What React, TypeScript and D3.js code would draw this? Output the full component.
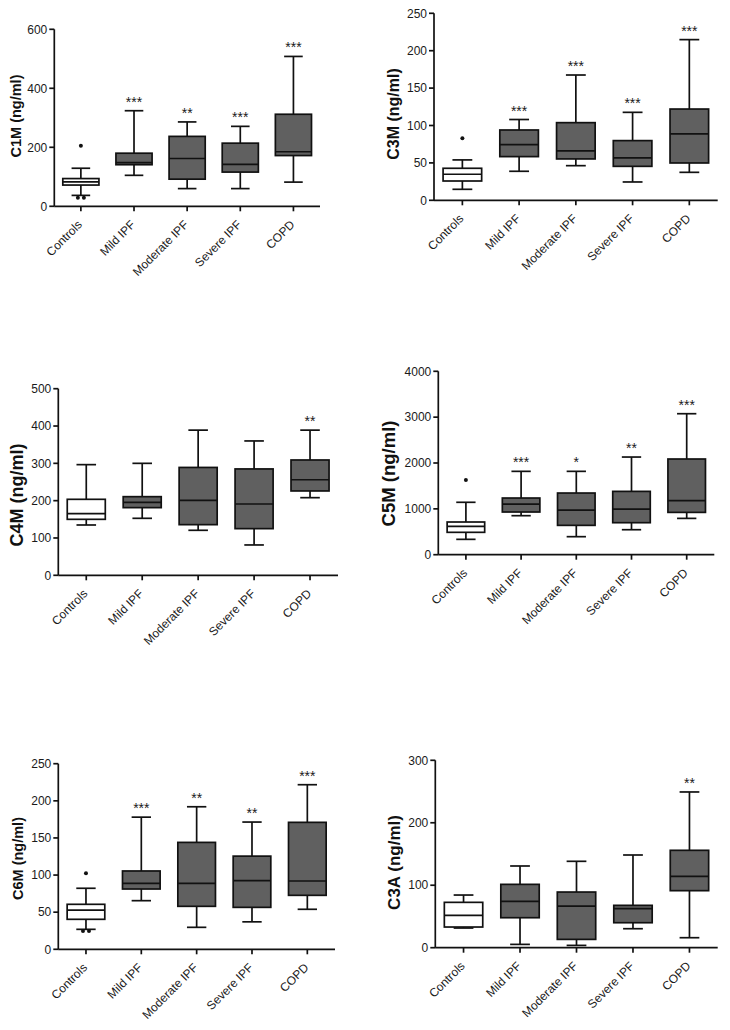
import React from 'react';
import * as d3 from 'd3';

const categories = ['Controls', 'Mild IPF', 'Moderate IPF', 'Severe IPF', 'COPD'];

// each box: [lower whisker, Q1, median, Q3, upper whisker]
const c1mBoxes = [[37, 72, 83, 94, 129], [105, 141, 148, 180, 324], [60, 92, 162, 237, 286], [60, 116, 142, 214, 271], [82, 172, 185, 312, 508]];
const c1mOutliers = [[205, 29, 29], [], [], [], []];
const c1mStars = ['', '***', '**', '***', '***'];
const c1mTicks = [0, 200, 400, 600];

const c3mBoxes = [[14.7, 25.8, 34.8, 42.8, 54], [38.8, 58.4, 74.4, 94, 108], [46.3, 55.3, 66, 103.8, 167.5], [24.5, 45.4, 56.6, 79.8, 117.6], [37.4, 49.9, 88.7, 122, 214.8]];
const c3mOutliers = [[83], [], [], [], []];
const c3mStars = ['', '***', '***', '***', '***'];
const c3mTicks = [0, 50, 100, 150, 200, 250];

const c4mBoxes = [[134.8, 150, 165, 203.6, 296.5], [152.7, 181.3, 195.6, 210.7, 300], [120.6, 135.7, 201, 289, 389], [81.3, 125, 191, 285, 360], [208, 226, 256, 309, 389]];
const c4mOutliers = [[], [], [], [], []];
const c4mStars = ['', '', '', '', '**'];
const c4mTicks = [0, 100, 200, 300, 400, 500];

const c5mBoxes = [[335, 488, 619, 713, 1143], [851, 931, 1105, 1236, 1818], [393, 640, 974, 1345, 1818], [545, 698, 996, 1381, 2130], [792, 923, 1178, 2087, 3075]];
const c5mOutliers = [[1629], [], [], [], []];
const c5mStars = ['', '***', '*', '**', '***'];
const c5mTicks = [0, 1000, 2000, 3000, 4000];

const c6mBoxes = [[26.9, 40.4, 52.9, 60.6, 82.2], [65.5, 81.2, 88.9, 105.5, 178], [29.6, 57.9, 88.9, 144, 192], [37, 56.5, 92.4, 125.5, 171.4], [53.9, 72.7, 92, 171, 221.7]];
const c6mOutliers = [[102.4, 24.6, 24.6], [], [], [], []];
const c6mStars = ['', '***', '**', '**', '***'];
const c6mTicks = [0, 50, 100, 150, 200, 250];

const c3aBoxes = [[31.5, 33.1, 51.8, 72.6, 84.3], [5.3, 48, 74.2, 101.4, 130.8], [3.7, 13.3, 66.7, 89.1, 138.3], [30.4, 40, 62.5, 67.8, 148.4], [16, 91.3, 114.2, 155.9, 249.3]];
const c3aOutliers = [[], [], [], [], []];
const c3aStars = ['', '', '', '', '**'];
const c3aTicks = [0, 100, 200, 300];

const panels = [
  { label: 'C1M (ng/ml)', boxes: c1mBoxes, outliers: c1mOutliers, stars: c1mStars, ticks: c1mTicks },
  { label: 'C3M (ng/ml)', boxes: c3mBoxes, outliers: c3mOutliers, stars: c3mStars, ticks: c3mTicks },
  { label: 'C4M (ng/ml)', boxes: c4mBoxes, outliers: c4mOutliers, stars: c4mStars, ticks: c4mTicks },
  { label: 'C5M (ng/ml)', boxes: c5mBoxes, outliers: c5mOutliers, stars: c5mStars, ticks: c5mTicks },
  { label: 'C6M (ng/ml)', boxes: c6mBoxes, outliers: c6mOutliers, stars: c6mStars, ticks: c6mTicks },
  { label: 'C3A (ng/ml)', boxes: c3aBoxes, outliers: c3aOutliers, stars: c3aStars, ticks: c3aTicks },
];

const layouts = [
  { left: 54.3, right: 320, top: 29.3, bottom: 206.3, titleX: 20.7, titleY: 116, titleSize: 14.5 },
  { left: 434, right: 717.7, top: 13.3, bottom: 200.3, titleX: 399.3, titleY: 114, titleSize: 16 },
  { left: 58.3, right: 338, top: 388.7, bottom: 575.3, titleX: 23.3, titleY: 495, titleSize: 18 },
  { left: 438.3, right: 714.3, top: 371.3, bottom: 554.7, titleX: 395, titleY: 473.5, titleSize: 18.5 },
  { left: 58.3, right: 335, top: 763.7, bottom: 949.3, titleX: 22.7, titleY: 858.5, titleSize: 14.5 },
  { left: 435.3, right: 717.7, top: 760.3, bottom: 947.7, titleX: 400, titleY: 862.5, titleSize: 17 },
];

const FONT = 'Liberation Sans, Arial, Helvetica, sans-serif';
const FILL = '#606060';
const INK = '#111';
const SW = 1.7;

function Panel({ panel, layout }: any) {
  const x = d3.scaleBand<string>().domain(categories).range([layout.left, layout.right]).padding(0);
  const yMax = panel.ticks[panel.ticks.length - 1];
  const y = d3.scaleLinear().domain([0, yMax]).range([layout.bottom, layout.top]);
  const bw = x.bandwidth() * 0.68;
  const cw = x.bandwidth() * 0.35;
  return (
    <g>
      {/* axes */}
      <line x1={layout.left} x2={layout.left} y1={layout.top} y2={layout.bottom} stroke={INK} strokeWidth={SW} />
      <line x1={layout.left} x2={layout.right} y1={layout.bottom} y2={layout.bottom} stroke={INK} strokeWidth={SW} />
      {panel.ticks.map((t: number) => (
        <g key={t}>
          <line x1={layout.left - 5} x2={layout.left} y1={y(t)} y2={y(t)} stroke={INK} strokeWidth={SW} />
          <text x={layout.left - 7} y={y(t)} dy="0.35em" textAnchor="end" fontSize={12} fontFamily={FONT} fill="#1a1a1a">{t}</text>
        </g>
      ))}
      {categories.map((c) => {
        const cx = (x(c) as number) + x.bandwidth() / 2;
        return (
          <g key={c}>
            <line x1={cx} x2={cx} y1={layout.bottom} y2={layout.bottom + 5} stroke={INK} strokeWidth={SW} />
            <text transform={`translate(${cx + 2},${layout.bottom + 19}) rotate(-45)`} textAnchor="end" fontSize={12} fontFamily={FONT} fill="#1a1a1a">{c}</text>
          </g>
        );
      })}
      <text transform={`translate(${layout.titleX},${layout.titleY}) rotate(-90)`} textAnchor="middle" fontSize={layout.titleSize} fontWeight="bold" fontFamily={FONT} fill={INK}>{panel.label}</text>
      {/* boxes */}
      {panel.boxes.map((b: number[], i: number) => {
        const c = categories[i];
        const cx = (x(c) as number) + x.bandwidth() / 2;
        const [lo, q1, md, q3, hi] = b;
        const fill = i === 0 ? '#fff' : FILL;
        const outs: number[] = panel.outliers[i];
        return (
          <g key={c}>
            <line x1={cx} x2={cx} y1={y(hi)} y2={y(q3)} stroke={INK} strokeWidth={SW} />
            <line x1={cx} x2={cx} y1={y(q1)} y2={y(lo)} stroke={INK} strokeWidth={SW} />
            <line x1={cx - cw / 2} x2={cx + cw / 2} y1={y(hi)} y2={y(hi)} stroke={INK} strokeWidth={SW} />
            <line x1={cx - cw / 2} x2={cx + cw / 2} y1={y(lo)} y2={y(lo)} stroke={INK} strokeWidth={SW} />
            <rect x={cx - bw / 2} y={y(q3)} width={bw} height={y(q1) - y(q3)} fill={fill} stroke={INK} strokeWidth={SW} />
            <line x1={cx - bw / 2} x2={cx + bw / 2} y1={y(md)} y2={y(md)} stroke={INK} strokeWidth={SW} />
            {outs.map((o, k) => {
              const dup = outs.filter((v) => v === o).length;
              const idx = outs.slice(0, k).filter((v) => v === o).length;
              const dx = dup > 1 ? (idx - (dup - 1) / 2) * 6 : 0;
              return <circle key={k} cx={cx + dx} cy={y(o)} r={2} fill={INK} />;
            })}
            {panel.stars[i] && (
              <text x={cx} y={y(hi) - 4} textAnchor="middle" fontSize={14} fontFamily={FONT} fill="#1a1a1a">{panel.stars[i]}</text>
            )}
          </g>
        );
      })}
    </g>
  );
}

export default function App() {
  return (
    <svg width={730} height={1030} style={{ position: 'absolute', left: 0, top: 0, background: '#fff' }}>
      <rect x={0} y={0} width={730} height={1030} fill="#fff" />
      {panels.map((p, i) => (
        <Panel key={p.label} panel={p} layout={layouts[i]} />
      ))}
    </svg>
  );
}
